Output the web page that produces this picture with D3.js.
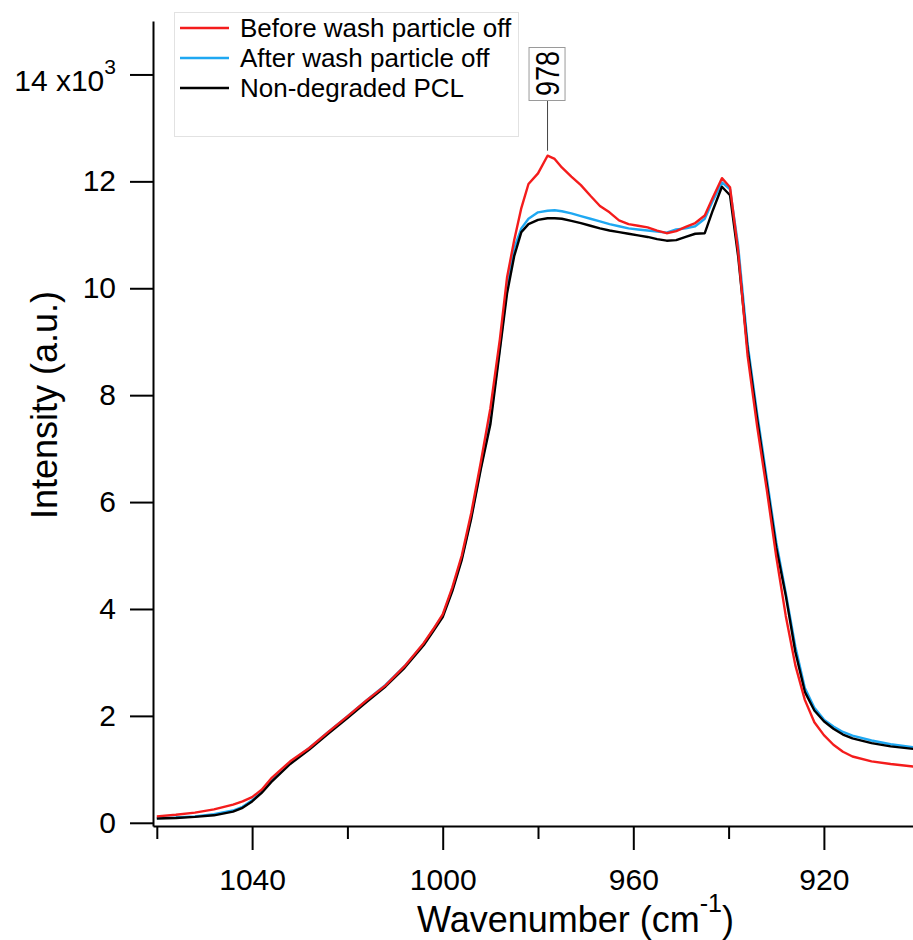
<!DOCTYPE html>
<html>
<head>
<meta charset="utf-8">
<script src="https://cdn.jsdelivr.net/npm/d3@7"></script>
<style>
  html, body { margin: 0; padding: 0; background: #fff; }
  svg { display: block; font-family: "Liberation Sans", Arial, sans-serif; }
</style>
</head>
<body>
<svg id="chart" width="913" height="940"></svg>
<script>
// Wavenumber grid (cm^-1), shared by all three spectra
const wavenumbers = [
  1060, 1056, 1052, 1048, 1044, 1042, 1040, 1038, 1036, 1032,
  1028, 1024, 1020, 1016, 1012, 1008, 1004, 1002, 1000, 998,
  996, 994, 992, 990, 988, 986.5, 985, 983.5, 982, 980,
  978, 976.5, 975, 973, 971, 969, 967, 965, 963, 961,
  959, 957, 955, 953, 951, 949, 947, 945, 943.3, 941.4,
  939.7, 938, 936, 934, 932, 930, 928, 926, 924, 922,
  920, 918, 916, 914, 910, 906, 901
];

// Intensities in units of 10^3
const beforeWash = [
  0.12, 0.15, 0.19, 0.25, 0.34, 0.40, 0.48, 0.62, 0.83, 1.15,
  1.40, 1.70, 1.99, 2.29, 2.57, 2.93, 3.36, 3.62, 3.90, 4.40,
  5.00, 5.80, 6.75, 7.75, 9.05, 10.20, 10.90, 11.50, 11.95, 12.15,
  12.48, 12.42, 12.26, 12.09, 11.93, 11.73, 11.54, 11.42, 11.27, 11.20,
  11.17, 11.14, 11.08, 11.03, 11.07, 11.15, 11.22, 11.36, 11.70, 12.06,
  11.89, 10.70, 8.73, 7.41, 6.24, 4.98, 3.87, 2.95, 2.30, 1.88,
  1.64, 1.46, 1.33, 1.24, 1.15, 1.10, 1.05
];

const afterWash = [
  0.09, 0.10, 0.12, 0.16, 0.23, 0.30, 0.42, 0.58, 0.79, 1.13,
  1.40, 1.70, 1.99, 2.29, 2.58, 2.93, 3.35, 3.61, 3.88, 4.36,
  4.95, 5.73, 6.65, 7.55, 8.90, 10.00, 10.75, 11.12, 11.30, 11.42,
  11.45, 11.46, 11.44, 11.40, 11.35, 11.30, 11.25, 11.20, 11.16, 11.12,
  11.10, 11.08, 11.06, 11.04, 11.10, 11.12, 11.16, 11.30, 11.64, 11.98,
  11.85, 10.80, 8.95, 7.65, 6.45, 5.25, 4.30, 3.30, 2.52, 2.15,
  1.93, 1.80, 1.70, 1.63, 1.54, 1.47, 1.41
];

const nonDegraded = [
  0.08, 0.09, 0.11, 0.14, 0.21, 0.28, 0.40, 0.56, 0.76, 1.10,
  1.37, 1.67, 1.96, 2.26, 2.55, 2.90, 3.32, 3.58, 3.85, 4.33,
  4.92, 5.70, 6.62, 7.45, 8.85, 9.90, 10.60, 11.05, 11.20, 11.28,
  11.31, 11.31, 11.30, 11.26, 11.22, 11.17, 11.12, 11.08, 11.05, 11.02,
  10.99, 10.96, 10.92, 10.89, 10.90, 10.96, 11.02, 11.03, 11.46, 11.90,
  11.74, 10.60, 8.85, 7.55, 6.35, 5.15, 4.25, 3.20, 2.45, 2.10,
  1.90, 1.76, 1.65, 1.58, 1.49, 1.43, 1.38
];

const seriesNames = ["Before wash particle off", "After wash particle off", "Non-degraded PCL"];
const seriesColors = ["#f41c1c", "#1fa8f2", "#000000"];

const xMajorTicks = [1040, 1000, 960, 920];
const xMinorTicks = [1060, 1020, 980, 940];
const yTicks = [0, 2, 4, 6, 8, 10, 12, 14];

const peakWavenumber = 978;
const peakValue = 12.48;

const svg = d3.select("#chart");
const plot = { left: 153, right: 913, top: 21, bottom: 826 };

const x = d3.scaleLinear().domain([1060.8, 901.3]).range([plot.left, plot.right]);
const y = d3.scaleLinear().domain([-0.06, 15]).range([plot.bottom, plot.top]);

// Spectra (drawn blue, black, then red on top)
const series = [
  { name: seriesNames[0], values: beforeWash, color: seriesColors[0] },
  { name: seriesNames[1], values: afterWash, color: seriesColors[1] },
  { name: seriesNames[2], values: nonDegraded, color: seriesColors[2] }
];

const line = d3.line()
  .x(d => x(d[0]))
  .y(d => y(d[1]))
  .curve(d3.curveLinear);

const drawOrder = [1, 2, 0];
svg.append("g").attr("class", "traces")
  .selectAll("path")
  .data(drawOrder.map(i => series[i]))
  .join("path")
  .attr("fill", "none")
  .attr("stroke", d => d.color)
  .attr("stroke-width", 2.4)
  .attr("stroke-linejoin", "round")
  .attr("d", d => line(wavenumbers.map((w, i) => [w, d.values[i]])));

// Axes
const axisFont = 30;

const yAxis = svg.append("g")
  .attr("transform", `translate(${plot.left},0)`)
  .call(d3.axisLeft(y).tickValues(yTicks).tickSize(23).tickSizeOuter(0).tickPadding(14)
    .tickFormat(d => d === 14 ? "14 x10" : String(d)));
yAxis.selectAll("text")
  .attr("font-size", axisFont)
  .attr("font-family", "Liberation Sans, Arial, sans-serif")
  .attr("fill", "#000");
yAxis.selectAll(".tick")
  .filter(d => d === 14)
  .select("text")
  .attr("dx", -17)
  .attr("dy", "0.52em")
  .append("tspan")
  .attr("dy", "-0.8em")
  .attr("font-size", 21)
  .text("3");
// keep the superscript anchored to the right edge
yAxis.selectAll(".tick").filter(d => d === 14).select("text").attr("dx", 0);

const xAxis = svg.append("g")
  .attr("transform", `translate(0,${plot.bottom})`)
  .call(d3.axisBottom(x).tickValues(xMajorTicks).tickSize(24).tickSizeOuter(0).tickPadding(19)
    .tickFormat(d3.format("d")));
xAxis.selectAll("text")
  .attr("font-size", axisFont)
  .attr("font-family", "Liberation Sans, Arial, sans-serif")
  .attr("fill", "#000");

const xMinor = svg.append("g")
  .attr("transform", `translate(0,${plot.bottom})`)
  .call(d3.axisBottom(x).tickValues(xMinorTicks).tickSize(13).tickSizeOuter(0).tickFormat(""));
xMinor.select(".domain").remove();

svg.selectAll(".domain, .tick line")
  .attr("stroke", "#000")
  .attr("stroke-width", 2);

// Axis titles
const xTitle = svg.append("text")
  .attr("x", 417)
  .attr("y", 932)
  .attr("font-size", 36)
  .attr("fill", "#000");
xTitle.append("tspan").text("Wavenumber (cm");
xTitle.append("tspan").attr("font-size", 25).attr("dy", -20).text("-1");
xTitle.append("tspan").attr("dy", 20).text(")");

svg.append("text")
  .attr("transform", "translate(57,405) rotate(-90)")
  .attr("text-anchor", "middle")
  .attr("font-size", 36)
  .attr("fill", "#000")
  .text("Intensity (a.u.)");

// Legend
const legend = svg.append("g");
legend.append("rect")
  .attr("x", 174.5).attr("y", 12.5)
  .attr("width", 344).attr("height", 124)
  .attr("fill", "#fff")
  .attr("stroke", "#e2e2e2")
  .attr("stroke-width", 1);
const rows = legend.selectAll("g.row")
  .data(series)
  .join("g")
  .attr("class", "row")
  .attr("transform", (d, i) => `translate(0,${28 + i * 30})`);
rows.append("line")
  .attr("x1", 180).attr("x2", 229)
  .attr("y1", 0).attr("y2", 0)
  .attr("stroke", d => d.color)
  .attr("stroke-width", 2.4);
rows.append("text")
  .attr("x", 240)
  .attr("y", 0)
  .attr("dy", "0.36em")
  .attr("font-size", 26)
  .attr("fill", "#000")
  .text(d => d.name);

// Peak annotation
const px = x(peakWavenumber);
const boxTop = 47, boxBottom = 100;
svg.append("line")
  .attr("x1", px).attr("x2", px)
  .attr("y1", boxBottom).attr("y2", y(peakValue) - 5)
  .attr("stroke", "#444")
  .attr("stroke-width", 1);
svg.append("rect")
  .attr("x", px - 18.5).attr("y", boxTop + 0.5)
  .attr("width", 36).attr("height", boxBottom - boxTop)
  .attr("fill", "#fff")
  .attr("stroke", "#9a9a9a")
  .attr("stroke-width", 1);
svg.append("text")
  .attr("transform", `translate(${px + 11},${(boxTop + boxBottom) / 2}) rotate(-90)`)
  .attr("text-anchor", "middle")
  .attr("font-size", 34)
  .attr("textLength", 45)
  .attr("lengthAdjust", "spacingAndGlyphs")
  .attr("fill", "#000")
  .text(String(peakWavenumber));
</script>
</body>
</html>
